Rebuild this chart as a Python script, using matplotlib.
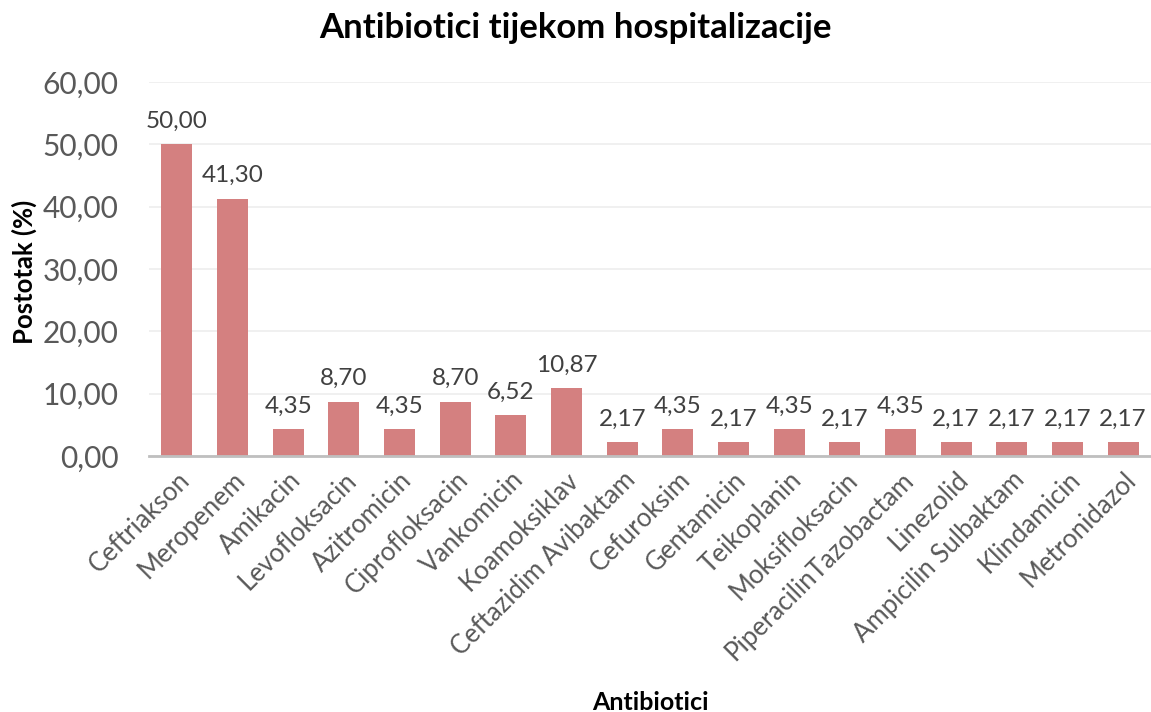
import matplotlib
matplotlib.use('Agg')
import matplotlib.pyplot as plt
from matplotlib.ticker import FuncFormatter

plt.rcParams['font.family'] = ['Lato', 'DejaVu Sans']

categories = [
    'Ceftriakson', 'Meropenem', 'Amikacin', 'Levofloksacin', 'Azitromicin',
    'Ciprofloksacin', 'Vankomicin', 'Koamoksiklav', 'Ceftazidim Avibaktam',
    'Cefuroksim', 'Gentamicin', 'Teikoplanin', 'Moksifloksacin',
    'PiperacilinTazobactam', 'Linezolid', 'Ampicilin Sulbaktam',
    'Klindamicin', 'Metronidazol',
]
percent = [50.00, 41.30, 4.35, 8.70, 4.35, 8.70, 6.52, 10.87, 2.17,
           4.35, 2.17, 4.35, 2.17, 4.35, 2.17, 2.17, 2.17, 2.17]
yticks = [0, 10, 20, 30, 40, 50, 60]

BAR_COLOR = '#D48080'


def comma(v, _pos=None):
    return f'{v:.2f}'.replace('.', ',')


fig = plt.figure(figsize=(11.51, 7.12), dpi=100)
ax = fig.add_axes([0.1295, 0.3596, 0.8705, 0.5252])

x = range(len(categories))
bars = ax.bar(x, percent, width=0.56, color=BAR_COLOR, zorder=3)

for rect, val in zip(bars, percent):
    ax.annotate(comma(val), (rect.get_x() + rect.get_width() / 2, rect.get_height()),
                xytext=(0, 9), textcoords='offset points', ha='center', va='bottom',
                fontsize=17.5, color='#404040')

ax.set_xlim(-0.5, len(categories) - 0.5)
ax.set_ylim(0, 60)
ax.set_yticks(yticks)
ax.yaxis.set_major_formatter(FuncFormatter(comma))
ax.set_xticks(list(x))
ax.set_xticklabels(categories, rotation=45, ha='right', rotation_mode='anchor',
                   fontsize=18.5, color='#595959')
ax.tick_params(axis='y', labelsize=21.5, colors='#595959', length=0, pad=22)
ax.tick_params(axis='x', length=0, pad=8)

ax.grid(axis='y', color='#EEEEEE', linewidth=1.2, zorder=0)
for side in ('top', 'right', 'left'):
    ax.spines[side].set_visible(False)
ax.spines['bottom'].set_color('#BFBFBF')
ax.spines['bottom'].set_linewidth(2)
ax.spines['bottom'].set_zorder(4)

fig.text(0.5, 0.96, 'Antibiotici tijekom hospitalizacije', ha='center', va='center',
         fontsize=25, fontweight='bold', color='black')
fig.text(0.021, 0.618, 'Postotak (%)', rotation=90, ha='center', va='center',
         fontsize=18.5, fontweight='bold', color='black')
fig.text(0.565, 0.013, 'Antibiotici', ha='center', va='center',
         fontsize=18, fontweight='bold', color='black')

fig.savefig('out.png', dpi=100)
